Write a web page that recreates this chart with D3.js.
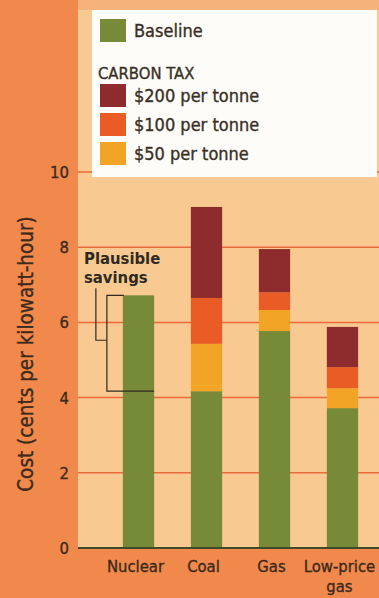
<!DOCTYPE html>
<html lang="en">
<head>
<meta charset="UTF-8">
<script src="https://cdnjs.cloudflare.com/ajax/libs/d3/7.9.0/d3.min.js"></script>
<title>Cost per kilowatt-hour</title>
<style>
    body { margin: 0; background: #f0894b; }
    svg { display: block; font-family: "DejaVu Sans Condensed", "Liberation Sans Narrow", "Open Sans", sans-serif; }
    .ink { stroke-width: 0.35; }
</style>
</head>
<body>
<svg id="chart" width="379" height="598"></svg>
<script>
    // data (cents per kWh)
    const categories = ["Nuclear", "Coal", "Gas", "Low-price gas"];
    const baseline = [6.72, 4.17, 5.77, 3.72];
    const tax50 = [0, 1.26, 0.56, 0.53];
    const tax100 = [0, 1.22, 0.47, 0.56];
    const tax200 = [0, 2.42, 1.15, 1.07];
    const yTicks = [0, 2, 4, 6, 8, 10];
    const seriesNames = ["Baseline", "$50 per tonne", "$100 per tonne", "$200 per tonne"];
    const seriesColors = ["#768a38", "#f2a427", "#ea5c26", "#8d2b2d"];

    const width = 379, height = 598;
    const plot = { left: 78, right: 379, top: 0, bottom: 548 };
    const ink = "#3e2a1c";

    const svg = d3.select("#chart");

    // backgrounds
    svg.append("rect").attr("width", width).attr("height", height).attr("fill", "#f0894b");
    svg.append("rect")
        .attr("x", plot.left).attr("y", plot.top)
        .attr("width", plot.right - plot.left).attr("height", plot.bottom - plot.top)
        .attr("fill", "#f8c990");
    svg.append("rect")
        .attr("x", plot.left).attr("y", 0)
        .attr("width", plot.right - plot.left).attr("height", 10)
        .attr("fill", "#f5b27a");

    const y = d3.scaleLinear().domain([0, 10]).range([548, 172]);
    const x = d3.scaleBand()
        .domain(categories)
        .range([78, 403])
        .paddingInner(0.54)
        .paddingOuter(0.66);

    // gridlines
    svg.append("g")
        .selectAll("line")
        .data(yTicks.filter(d => d > 0))
        .enter()
        .append("line")
        .attr("x1", plot.left)
        .attr("x2", plot.right)
        .attr("y1", d => y(d))
        .attr("y2", d => y(d))
        .attr("stroke", "#ea6a3c")
        .attr("stroke-width", 1.5);

    // y tick labels
    svg.append("g")
        .selectAll("text")
        .data(yTicks)
        .enter()
        .append("text")
        .attr("class", "ink")
        .attr("x", 69)
        .attr("y", d => y(d) + 6)
        .attr("text-anchor", "end")
        .attr("font-size", 16.5)
        .attr("fill", ink)
        .attr("stroke", ink)
        .text(d => d);

    // stacked bars
    const rows = categories.map((c, i) => ({
        cat: c, Baseline: baseline[i],
        "$50 per tonne": tax50[i], "$100 per tonne": tax100[i], "$200 per tonne": tax200[i]
    }));
    const stack = d3.stack().keys(seriesNames)(rows);

    svg.append("g")
        .selectAll("g")
        .data(stack)
        .enter()
        .append("g")
        .attr("fill", (d, i) => seriesColors[i])
        .selectAll("rect")
        .data(d => d.filter(s => s[1] > s[0]))
        .enter()
        .append("rect")
        .attr("x", d => x(d.data.cat))
        .attr("width", x.bandwidth())
        .attr("y", d => y(d[1]))
        .attr("height", d => y(d[0]) - y(d[1]));

    // baseline axis line
    svg.append("line")
        .attr("x1", plot.left).attr("x2", plot.right)
        .attr("y1", y(0)).attr("y2", y(0))
        .attr("stroke", "#3e4a2a").attr("stroke-width", 2);

    // category labels
    const xLabels = svg.append("g")
        .selectAll("text")
        .data(categories)
        .enter()
        .append("text")
        .attr("class", "ink")
        .attr("y", 572)
        .attr("text-anchor", "middle")
        .attr("font-size", 16.5)
        .attr("fill", ink)
        .attr("stroke", ink);
    xLabels.each(function (d) {
        const parts = d === "Low-price gas" ? ["Low-price", "gas"] : [d];
        parts.forEach((p, i) => {
            d3.select(this).append("tspan")
                .attr("x", x(d) + x.bandwidth() / 2 - 3)
                .attr("dy", i === 0 ? 0 : 20)
                .text(p);
        });
    });

    // y axis title
    svg.append("text")
        .attr("class", "ink")
        .attr("transform", "translate(33,354) rotate(-90)")
        .attr("text-anchor", "middle")
        .attr("font-size", 20.5)
        .attr("fill", ink)
        .attr("stroke", ink)
        .text("Cost (cents per kilowatt-hour)");

    // plausible savings bracket: nuclear baseline down to coal baseline
    const nucX = x("Nuclear");
    const bTop = y(baseline[0]), bBot = y(baseline[1]);
    const bracket = svg.append("g").attr("fill", "none").attr("stroke", "#2e2a22").attr("stroke-width", 1.2);
    bracket.append("path")
        .attr("d", `M${nucX + 1},${bTop} H${nucX - 16} V${bBot} H${nucX + x.bandwidth()}`);
    bracket.append("path")
        .attr("d", `M${nucX - 27},${bTop - 7} V${(bTop + bBot) / 2 - 3} H${nucX - 16}`);

    svg.append("text")
        .attr("x", 84)
        .attr("y", 264)
        .attr("font-size", 16.5)
        .attr("font-weight", "bold")
        .attr("fill", "#2e2a22")
        .selectAll("tspan")
        .data(["Plausible", "savings"])
        .enter()
        .append("tspan")
        .attr("x", 84)
        .attr("dy", (d, i) => i === 0 ? 0 : 19)
        .text(d => d);

    // legend
    const legend = svg.append("g");
    legend.append("rect")
        .attr("x", 92).attr("y", 10).attr("width", 285).attr("height", 167)
        .attr("fill", "#fdfcf8");
    const legendItems = [
        { name: "Baseline", color: seriesColors[0], y: 19 },
        { name: "$200 per tonne", color: seriesColors[3], y: 84 },
        { name: "$100 per tonne", color: seriesColors[2], y: 113 },
        { name: "$50 per tonne", color: seriesColors[1], y: 142 }
    ];
    legend.selectAll("rect.sw")
        .data(legendItems)
        .enter()
        .append("rect")
        .attr("class", "sw")
        .attr("x", 100).attr("y", d => d.y)
        .attr("width", 26).attr("height", 23)
        .attr("fill", d => d.color);
    legend.selectAll("text.lab")
        .data(legendItems)
        .enter()
        .append("text")
        .attr("class", "lab ink")
        .attr("x", 134).attr("y", d => d.y + 18)
        .attr("font-size", 18)
        .attr("fill", "#3a3026")
        .attr("stroke", "#3a3026")
        .text(d => d.name);
    legend.append("text")
        .attr("class", "ink")
        .attr("x", 98).attr("y", 79)
        .attr("font-size", 16.5)
        .attr("fill", "#3a3026")
        .attr("stroke", "#3a3026")
        .text("CARBON TAX");
</script>
</body>
</html>
